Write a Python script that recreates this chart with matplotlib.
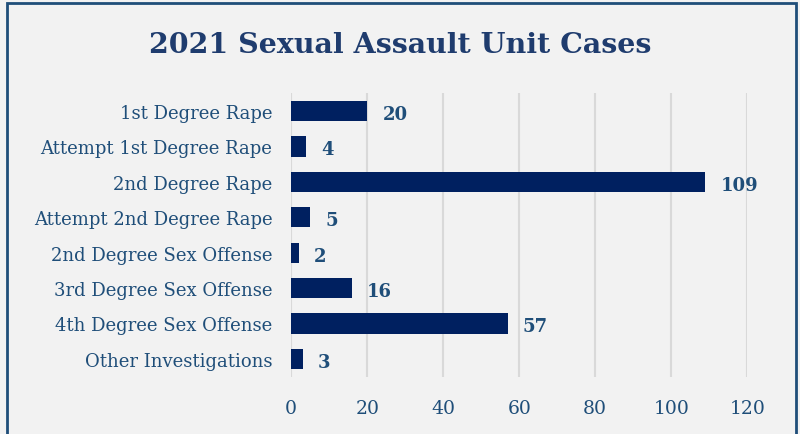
import matplotlib.pyplot as plt
from matplotlib.patches import Rectangle

categories = ['1st Degree Rape', 'Attempt 1st Degree Rape', '2nd Degree Rape',
              'Attempt 2nd Degree Rape', '2nd Degree Sex Offense',
              '3rd Degree Sex Offense', '4th Degree Sex Offense',
              'Other Investigations']
cases = [20, 4, 109, 5, 2, 16, 57, 3]
xticks = [0, 20, 40, 60, 80, 100, 120]

navy = '#002060'
text_col = '#1f4e79'
bg = '#f2f2f2'

fig = plt.figure(figsize=(8, 4.35), dpi=100, facecolor=bg)
ax = fig.add_axes([0.364, 0.132, 0.57, 0.651])
ax.set_facecolor(bg)

ypos = list(range(len(categories)))
ax.barh(ypos, cases, height=0.57, color=navy, zorder=3)
for y, v in zip(ypos, cases):
    ax.text(v + 4, y + 0.08, str(v), va='center', ha='left', fontsize=13,
            fontweight='bold', color=text_col, family='DejaVu Serif')

ax.set_ylim(len(categories) - 0.5, -0.5)
ax.set_xlim(0, 120)
ax.set_yticks(ypos)
ax.set_yticklabels(categories, family='DejaVu Serif', fontsize=13, color=text_col)
ax.set_xticks(xticks)
ax.set_xticklabels([str(t) for t in xticks], family='DejaVu Serif', fontsize=13.5, color=text_col)
ax.tick_params(length=0)
ax.tick_params(axis='x', pad=16)
ax.tick_params(axis='y', pad=13.5)
ax.grid(axis='x', color='#d9d9d9', linewidth=1.5, zorder=0)
for s in ax.spines.values():
    s.set_visible(False)

fig.text(0.5, 0.895, '2021 Sexual Assault Unit Cases', ha='center', va='center',
         fontsize=20.5, fontweight='bold', color='#1f3c6e', family='DejaVu Serif')

fig.patches.append(Rectangle((7 / 800, -0.05), 789 / 800, 1.04, transform=fig.transFigure,
                             fill=False, edgecolor='#1f4e79', linewidth=2))

fig.savefig('out.png', dpi=100, facecolor=bg)
